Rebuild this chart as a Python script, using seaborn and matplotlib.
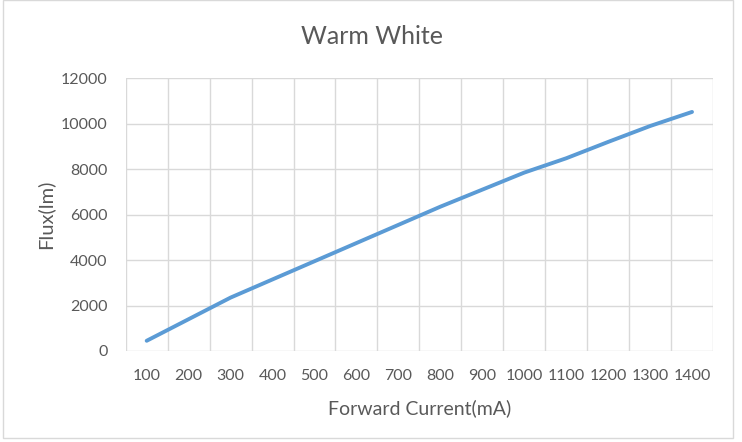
import numpy as np
import pandas as pd
import seaborn as sns
import matplotlib.pyplot as plt
from matplotlib.patches import Rectangle

# data
current_ma = ['100', '200', '300', '400', '500', '600', '700',
              '800', '900', '1000', '1100', '1200', '1300', '1400']
flux_lm = [450, 1400, 2350, 3150, 3950, 4750, 5550,
           6350, 7100, 7850, 8480, 9200, 9900, 10520]

df = pd.DataFrame({'Forward Current(mA)': current_ma, 'Flux(lm)': flux_lm})

sns.set_style('white')
plt.rcParams['font.family'] = ['Lato', 'DejaVu Sans']

W, H = 742, 442
fig = plt.figure(figsize=(W / 100, H / 100), dpi=100)
ax = fig.add_axes([125.7 / W, (H - 351) / H, (713 - 125.7) / W, (351 - 78.3) / H])

sns.lineplot(x='Forward Current(mA)', y='Flux(lm)', data=df, ax=ax,
             color='#5B9BD5', linewidth=2.8, sort=False)
for l in ax.lines:
    l.set_solid_capstyle('round')

ax.set_xlim(-0.5, len(current_ma) - 0.5)
ax.set_ylim(0, 12000)
ax.set_yticks(np.arange(0, 12001, 2000))
ax.set_xticks(np.arange(-0.5, len(current_ma), 1), minor=True)
ax.grid(False)
ax.grid(True, which='minor', axis='x', color='#D9D9D9', linewidth=1)
ax.grid(True, which='major', axis='y', color='#D9D9D9', linewidth=1)
ax.tick_params(which='both', length=0)
ax.tick_params(axis='both', labelsize=11.5, labelcolor='#595959')
ax.tick_params(axis='x', pad=13)
ax.tick_params(axis='y', pad=13)
for s in ax.spines.values():
    s.set_visible(False)
ax.set_axisbelow(True)

ax.set_xlabel('Forward Current(mA)', fontsize=14, color='#595959')
ax.set_ylabel('Flux(lm)', fontsize=14.5, color='#595959')
ax.xaxis.label.set_va('center')
ax.xaxis.set_label_coords(0.5, (351 - 408) / (351 - 78.3))
ax.yaxis.label.set_va('center')
ax.yaxis.set_label_coords((45 - 125.7) / (713 - 125.7), 0.5)

fig.text(372 / W, 1 - 37 / H, 'Warm White', ha='center', va='center',
         fontsize=18, color='#595959')

# light chart border like the original
fig.patches.append(Rectangle((3 / W, 4 / H), 730 / W, 1 - 4 / H, transform=fig.transFigure,
                             fill=False, edgecolor='#D9D9D9', linewidth=1))

fig.savefig('out.png', dpi=100)
